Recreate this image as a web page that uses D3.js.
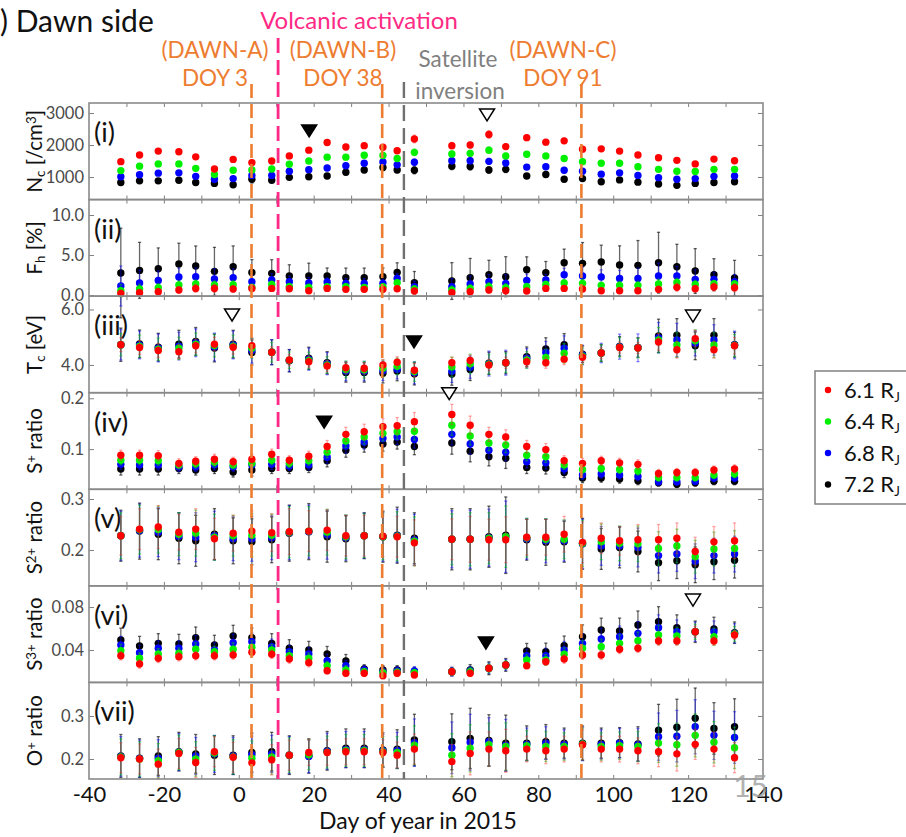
<!DOCTYPE html>
<html>
<head>
<meta charset="utf-8">
<script src="https://cdn.jsdelivr.net/npm/d3@7"></script>
<style>
  html, body { margin: 0; padding: 0; background: #fff; }
  svg { display: block; }
  text { font-family: Lato, "Open Sans", sans-serif; }
</style>
</head>
<body>
<div id="chart"></div>
<script>
// Observation days (day of year 2015)
const days = [-31.5, -26.5, -21.5, -16, -11.5, -6.5, -1.5, 3.5, 8.8, 13.5, 18.7, 23.6, 28.6, 33.5, 38.5, 42.3, 46.9,
  56.9, 61.8, 66.8, 71.3, 76.9, 82, 86.9, 91.8, 96.8, 101.7, 106.6, 112.1, 117, 121.9, 126.9, 132.4];

// Radial distances (legend)
const distances = ["6.1", "6.4", "6.8", "7.2"];

// (i) Core electron density Nc [/cm3]
const nc_61 = [1480,1690,1810,1790,1630,1250,1550,1450,1500,1660,1840,2080,1940,1980,1930,1820,2190, 1980,2000,2330,1950,2230,2090,2130,1870,1880,1810,1690,1600,1520,1410,1560,1510];
const nc_64 = [1200,1340,1410,1410,1270,1080,1210,1220,1250,1400,1500,1620,1620,1680,1670,1580,1770, 1720,1740,1840,1660,1710,1660,1580,1480,1430,1430,1320,1240,1180,1170,1240,1240];
const nc_68 = [1010,1070,1120,1130,1020,930,950,1050,1050,1180,1230,1280,1350,1430,1470,1380,1460, 1510,1510,1490,1440,1310,1320,1210,1180,1090,1130,1050,980,930,950,1020,1030];
const nc_72 = [830,880,880,900,830,800,760,930,900,990,1010,1030,1150,1220,1300,1220,1210, 1340,1330,1220,1240,1030,1080,930,950,850,910,840,780,740,800,830,850];
const nc_err_61 = [60,60,60,60,60,60,60,70,60,70,80,70,80,80,80,70,120, 100,90,120,90,90,80,80,80,70,70,70,60,60,60,60,60];
const nc_err_64 = [60,60,60,60,60,60,60,80,60,60,70,60,70,70,70,70,100, 90,90,100,80,80,70,70,70,60,60,60,60,60,60,60,60];
const nc_err_68 = [60,60,60,60,60,60,60,90,60,60,70,60,70,70,80,70,100, 100,100,90,90,70,70,70,70,60,60,60,60,60,60,60,60];
const nc_err_72 = [60,60,60,60,60,60,70,120,60,60,60,60,80,80,100,80,110, 110,110,100,100,70,70,70,70,60,60,60,60,60,60,60,60];

// (ii) Hot electron fraction Fh [%]
const fh_61 = [0.21,0.29,0.42,0.63,0.83,0.83,0.75,0.83,0.83,0.79,0.54,0.83,0.71,0.71,0.71,0.79,0.5, 0.29,0.42,0.63,0.54,0.5,0.83,0.83,0.75,0.54,0.54,0.54,0.71,0.96,0.79,1.0,0.92];
const fh_64 = [0.54,0.75,0.92,1.25,1.38,1.25,1.29,0.96,1.33,1.04,0.96,1.04,1.04,0.96,1.04,1.54,0.75, 0.63,0.83,1.04,0.92,1.04,1.33,1.5,1.46,1.21,1.21,1.21,1.38,1.58,1.33,1.42,1.38];
const fh_68 = [1.13,1.5,1.83,2.25,2.29,2.0,2.17,1.67,1.88,1.67,1.5,1.63,1.46,1.46,1.46,2.08,1.04, 1.04,1.38,1.67,1.46,1.83,1.88,2.54,2.38,2.25,2.08,2.08,2.38,2.38,1.96,1.96,1.67];
const fh_72 = [2.75,3.08,3.29,3.88,3.63,2.96,3.54,2.83,2.71,2.38,2.38,2.38,2.17,2.17,2.29,2.83,1.54, 1.75,2.17,2.54,2.29,3.17,2.79,4.04,3.96,4.13,3.75,3.71,4.04,3.54,3.0,2.54,2.13];
const fh_err_61 = [0.4,0.4,0.4,0.4,0.5,0.5,0.4,0.4,0.3,0.3,0.3,0.3,0.3,0.3,0.3,0.3,0.3, 0.4,0.4,0.4,0.4,0.3,0.3,0.3,0.3,0.3,0.3,0.3,0.4,0.5,0.4,0.5,0.5];
const fh_err_64 = [0.8,0.6,0.5,0.5,0.5,0.5,0.5,0.4,0.4,0.4,0.4,0.3,0.3,0.3,0.3,0.4,0.4, 0.5,0.5,0.5,0.5,0.4,0.4,0.4,0.5,0.4,0.5,0.5,0.6,0.5,0.5,0.4,0.4];
const fh_err_68 = [2.5,1.6,1.2,1.1,1.1,1.3,1.1,0.8,0.8,0.7,0.7,0.5,0.6,0.6,0.5,0.6,0.7, 1.0,1.0,0.9,1.1,0.8,0.7,0.8,1.1,0.9,1.0,1.3,1.6,1.2,1.2,0.9,0.9];
const fh_err_72 = [5.6,3.5,2.6,2.6,2.5,3.0,2.6,1.6,1.7,1.4,1.6,1.0,1.2,1.2,1.1,1.2,1.4, 2.3,2.4,1.8,2.5,1.6,1.4,1.7,2.6,2.1,2.4,3.1,3.8,2.8,2.8,2.0,2.2];

// (iii) Core electron temperature Tc [eV]
const tc_61 = [4.73,4.63,4.52,4.48,4.69,4.75,4.64,4.69,4.46,4.18,4.12,3.96,3.90,3.88,4.0,4.1,3.81, 4.08,4.16,4.0,4.08,4.12,4.08,4.21,4.28,4.43,4.63,4.61,4.83,4.55,4.95,4.55,4.69];
const tc_64 = [4.73,4.68,4.57,4.60,4.75,4.70,4.68,4.60,4.46,4.17,4.16,4.00,3.84,3.83,3.88,3.95,3.76, 3.93,4.04,4.03,4.08,4.18,4.27,4.42,4.32,4.43,4.64,4.61,4.90,4.72,4.87,4.72,4.70];
const tc_68 = [4.73,4.72,4.61,4.68,4.80,4.65,4.72,4.52,4.46,4.16,4.21,4.05,3.78,3.78,3.79,3.85,3.72, 3.77,3.92,4.05,4.08,4.24,4.45,4.60,4.36,4.43,4.66,4.62,4.98,4.90,4.78,4.90,4.72];
const tc_72 = [4.73,4.76,4.64,4.75,4.85,4.61,4.75,4.45,4.46,4.15,4.24,4.08,3.73,3.73,3.70,3.78,3.68, 3.67,3.84,4.06,4.08,4.30,4.58,4.73,4.39,4.43,4.67,4.63,5.05,5.07,4.69,5.07,4.73];
const tc_err_61 = [0.25,0.25,0.25,0.25,0.25,0.25,0.25,0.25,0.2,0.2,0.2,0.2,0.2,0.2,0.2,0.2,0.25, 0.2,0.2,0.2,0.2,0.2,0.2,0.2,0.2,0.2,0.2,0.2,0.3,0.3,0.3,0.3,0.3];
const tc_err_64 = [0.4,0.4,0.4,0.4,0.4,0.4,0.4,0.35,0.35,0.3,0.3,0.3,0.3,0.3,0.3,0.3,0.35, 0.35,0.35,0.35,0.35,0.3,0.3,0.35,0.3,0.3,0.35,0.35,0.45,0.45,0.4,0.45,0.4];
const tc_err_68 = [0.55,0.5,0.5,0.5,0.5,0.5,0.5,0.45,0.45,0.4,0.4,0.4,0.35,0.35,0.35,0.35,0.4, 0.4,0.4,0.45,0.45,0.35,0.4,0.45,0.35,0.35,0.45,0.5,0.55,0.6,0.45,0.55,0.5];
const tc_err_72 = [0.6,0.5,0.5,0.5,0.5,0.5,0.5,0.45,0.45,0.4,0.4,0.4,0.35,0.35,0.35,0.35,0.4, 0.4,0.4,0.4,0.4,0.35,0.4,0.4,0.3,0.3,0.35,0.35,0.6,0.6,0.5,0.6,0.45];

// (iv) S+ mixing ratio
const s1_61 = [0.088,0.088,0.087,0.072,0.076,0.080,0.075,0.080,0.090,0.078,0.086,0.105,0.129,0.134,0.144,0.146,0.154, 0.168,0.147,0.129,0.124,0.105,0.099,0.077,0.072,0.077,0.073,0.070,0.052,0.054,0.054,0.059,0.061];
const s1_64 = [0.078,0.078,0.077,0.069,0.071,0.074,0.069,0.072,0.078,0.072,0.077,0.094,0.116,0.124,0.131,0.134,0.135, 0.147,0.126,0.112,0.108,0.088,0.085,0.069,0.060,0.062,0.060,0.057,0.044,0.044,0.044,0.049,0.051];
const s1_68 = [0.070,0.069,0.069,0.065,0.065,0.069,0.065,0.069,0.070,0.067,0.069,0.084,0.106,0.114,0.121,0.124,0.119, 0.129,0.110,0.098,0.094,0.075,0.073,0.061,0.049,0.051,0.049,0.046,0.036,0.036,0.037,0.043,0.043];
const s1_72 = [0.061,0.061,0.061,0.062,0.059,0.062,0.055,0.059,0.062,0.062,0.064,0.077,0.098,0.108,0.110,0.114,0.105, 0.112,0.096,0.085,0.082,0.064,0.063,0.054,0.043,0.043,0.041,0.038,0.034,0.031,0.034,0.037,0.037];
const s1_err_61 = [0.01,0.01,0.01,0.009,0.009,0.01,0.009,0.01,0.01,0.009,0.01,0.012,0.014,0.015,0.016,0.016,0.018, 0.02,0.018,0.014,0.014,0.012,0.012,0.01,0.01,0.009,0.009,0.009,0.008,0.008,0.008,0.008,0.008];
const s1_err_64 = [0.009,0.009,0.009,0.008,0.008,0.009,0.008,0.009,0.009,0.008,0.009,0.011,0.013,0.014,0.015,0.015,0.017, 0.02,0.018,0.015,0.015,0.011,0.011,0.009,0.009,0.008,0.008,0.008,0.007,0.007,0.007,0.007,0.007];
const s1_err_68 = [0.01,0.01,0.01,0.009,0.009,0.01,0.009,0.01,0.01,0.009,0.01,0.012,0.014,0.014,0.015,0.015,0.017, 0.021,0.02,0.016,0.017,0.012,0.012,0.01,0.009,0.008,0.008,0.008,0.007,0.007,0.007,0.007,0.007];
const s1_err_72 = [0.012,0.012,0.012,0.01,0.01,0.01,0.01,0.012,0.01,0.01,0.01,0.012,0.014,0.014,0.014,0.014,0.016, 0.022,0.021,0.018,0.02,0.012,0.012,0.01,0.009,0.008,0.008,0.008,0.007,0.007,0.007,0.007,0.007];

// (v) S2+ mixing ratio
const s2_61 = [0.228,0.241,0.245,0.235,0.241,0.222,0.233,0.237,0.234,0.236,0.237,0.239,0.228,0.228,0.227,0.226,0.214, 0.221,0.221,0.220,0.220,0.225,0.225,0.231,0.215,0.223,0.218,0.220,0.220,0.223,0.197,0.216,0.218];
const s2_64 = [0.228,0.240,0.240,0.231,0.233,0.225,0.228,0.229,0.229,0.235,0.237,0.235,0.226,0.228,0.226,0.227,0.217, 0.221,0.221,0.223,0.226,0.224,0.221,0.221,0.213,0.216,0.213,0.212,0.203,0.208,0.187,0.202,0.203];
const s2_68 = [0.228,0.238,0.235,0.227,0.225,0.228,0.222,0.222,0.224,0.234,0.236,0.230,0.224,0.228,0.226,0.228,0.220, 0.221,0.221,0.224,0.226,0.222,0.218,0.218,0.212,0.208,0.208,0.205,0.189,0.192,0.178,0.189,0.192];
const s2_72 = [0.228,0.237,0.231,0.223,0.218,0.231,0.218,0.216,0.220,0.233,0.236,0.226,0.222,0.228,0.226,0.229,0.223, 0.221,0.221,0.226,0.229,0.220,0.215,0.216,0.212,0.202,0.205,0.197,0.175,0.179,0.171,0.177,0.180];
const s2_err_61 = [0.038,0.04,0.042,0.035,0.04,0.04,0.035,0.04,0.037,0.045,0.04,0.04,0.04,0.04,0.04,0.04,0.045, 0.04,0.045,0.04,0.045,0.035,0.035,0.035,0.04,0.03,0.028,0.03,0.03,0.03,0.028,0.03,0.035];
const s2_err_64 = [0.045,0.048,0.046,0.042,0.045,0.045,0.04,0.042,0.041,0.05,0.048,0.045,0.043,0.043,0.045,0.048,0.048, 0.05,0.052,0.05,0.06,0.038,0.04,0.038,0.045,0.035,0.034,0.035,0.033,0.033,0.032,0.033,0.035];
const s2_err_68 = [0.048,0.052,0.048,0.046,0.048,0.048,0.043,0.044,0.043,0.053,0.052,0.048,0.044,0.044,0.048,0.052,0.05, 0.056,0.057,0.056,0.07,0.04,0.043,0.04,0.048,0.038,0.038,0.038,0.034,0.034,0.034,0.034,0.035];
const s2_err_72 = [0.05,0.055,0.05,0.05,0.05,0.05,0.045,0.045,0.045,0.055,0.055,0.05,0.045,0.045,0.05,0.055,0.05, 0.06,0.06,0.06,0.075,0.04,0.045,0.04,0.05,0.04,0.04,0.04,0.035,0.035,0.035,0.035,0.035];

// (vi) S3+ mixing ratio
const s3_61 = [0.0347,0.0270,0.0323,0.0338,0.0347,0.0347,0.0353,0.0379,0.0360,0.0316,0.0282,0.0207,0.0183,0.0183,0.0161,0.0183,0.0168, 0.0198,0.0183,0.0230,0.0261,0.0254,0.0291,0.0316,0.0353,0.0353,0.0407,0.0416,0.0484,0.0484,0.0570,0.0484,0.0540];
const s3_64 = [0.0394,0.0323,0.0363,0.0369,0.0407,0.0384,0.0407,0.0425,0.0400,0.0347,0.0323,0.0254,0.0214,0.0198,0.0189,0.0193,0.0189, 0.0198,0.0198,0.0230,0.0261,0.0307,0.0307,0.0360,0.0416,0.0431,0.0462,0.0487,0.0540,0.0530,0.0570,0.0524,0.0549];
const s3_68 = [0.0447,0.0375,0.0416,0.0416,0.0456,0.0400,0.0468,0.0477,0.0431,0.0384,0.0363,0.0300,0.0254,0.0214,0.0198,0.0205,0.0205, 0.0198,0.0207,0.0230,0.0261,0.0347,0.0347,0.0400,0.0462,0.0502,0.0524,0.0555,0.0607,0.0570,0.0570,0.0570,0.0555];
const s3_72 = [0.0493,0.0437,0.0462,0.0456,0.0514,0.0447,0.0530,0.0514,0.0462,0.0416,0.0400,0.0363,0.0298,0.0223,0.0214,0.0214,0.0198, 0.0198,0.0214,0.0230,0.0261,0.0391,0.0384,0.0440,0.0524,0.0586,0.0577,0.0633,0.0663,0.0607,0.0570,0.0595,0.0561];
const s3_err_61 = [0.004,0.004,0.004,0.004,0.004,0.004,0.004,0.004,0.004,0.004,0.004,0.003,0.003,0.003,0.003,0.003,0.003, 0.003,0.003,0.003,0.003,0.003,0.003,0.004,0.004,0.004,0.004,0.004,0.004,0.004,0.005,0.004,0.004];
const s3_err_64 = [0.006,0.005,0.005,0.005,0.006,0.005,0.006,0.006,0.005,0.005,0.005,0.004,0.004,0.003,0.003,0.003,0.003, 0.003,0.004,0.004,0.004,0.005,0.005,0.006,0.007,0.007,0.008,0.008,0.009,0.008,0.007,0.008,0.007];
const s3_err_68 = [0.008,0.007,0.007,0.007,0.008,0.007,0.008,0.008,0.007,0.006,0.006,0.006,0.005,0.004,0.004,0.004,0.004, 0.004,0.004,0.005,0.005,0.006,0.007,0.008,0.009,0.01,0.01,0.011,0.012,0.011,0.009,0.01,0.009];
const s3_err_72 = [0.011,0.009,0.009,0.009,0.01,0.009,0.01,0.009,0.009,0.008,0.008,0.007,0.006,0.004,0.004,0.004,0.004, 0.004,0.005,0.006,0.006,0.007,0.008,0.009,0.011,0.011,0.012,0.013,0.014,0.012,0.01,0.011,0.01];

// (vii) O+ mixing ratio
const o1_61 = [0.203,0.200,0.188,0.213,0.192,0.217,0.204,0.191,0.198,0.209,0.215,0.215,0.217,0.217,0.215,0.209,0.223, 0.194,0.213,0.223,0.219,0.223,0.219,0.223,0.233,0.223,0.223,0.219,0.217,0.212,0.234,0.223,0.203];
const o1_64 = [0.205,0.200,0.196,0.215,0.200,0.214,0.205,0.202,0.205,0.209,0.210,0.216,0.220,0.220,0.217,0.215,0.232, 0.209,0.225,0.233,0.229,0.231,0.229,0.229,0.235,0.229,0.231,0.229,0.237,0.233,0.255,0.239,0.226];
const o1_68 = [0.206,0.201,0.202,0.216,0.207,0.212,0.207,0.210,0.212,0.209,0.206,0.218,0.222,0.222,0.219,0.220,0.238, 0.226,0.239,0.240,0.232,0.234,0.237,0.234,0.235,0.234,0.237,0.233,0.252,0.253,0.275,0.255,0.250];
const o1_72 = [0.207,0.202,0.207,0.217,0.212,0.209,0.209,0.215,0.217,0.209,0.207,0.219,0.225,0.225,0.221,0.223,0.244, 0.240,0.248,0.243,0.237,0.237,0.240,0.237,0.237,0.237,0.238,0.235,0.267,0.274,0.295,0.271,0.275];
const o1_err_61 = [0.035,0.035,0.035,0.035,0.035,0.035,0.035,0.035,0.035,0.035,0.03,0.03,0.03,0.03,0.03,0.03,0.035, 0.04,0.05,0.04,0.05,0.03,0.03,0.03,0.035,0.03,0.03,0.03,0.035,0.04,0.035,0.04,0.035];
const o1_err_64 = [0.042,0.04,0.04,0.04,0.04,0.04,0.04,0.04,0.04,0.04,0.035,0.037,0.037,0.037,0.035,0.037,0.045, 0.05,0.055,0.05,0.055,0.035,0.035,0.032,0.037,0.032,0.032,0.035,0.045,0.05,0.05,0.048,0.048];
const o1_err_68 = [0.046,0.043,0.043,0.043,0.043,0.043,0.043,0.043,0.043,0.043,0.038,0.042,0.042,0.042,0.038,0.042,0.055, 0.06,0.065,0.056,0.06,0.038,0.038,0.034,0.039,0.034,0.034,0.038,0.055,0.06,0.063,0.056,0.06];
const o1_err_72 = [0.05,0.045,0.045,0.045,0.045,0.045,0.045,0.045,0.045,0.045,0.04,0.045,0.045,0.045,0.04,0.045,0.06, 0.065,0.07,0.06,0.065,0.04,0.04,0.035,0.04,0.035,0.035,0.04,0.06,0.065,0.07,0.06,0.065];

// Event markers (panel index, day, value, filled)
const markerPanel = [0, 0, 2, 2, 2, 3, 3, 5, 5];
const markerDay   = [18.8, 66.3, -1.8, 46.8, 121.3, 22.8, 56.2, 66.0, 121.3];
const markerValue = [2440, 2940, 5.80, 4.83, 5.76, 0.153, 0.209, 0.0465, 0.0865];
const markerFilled = [true, false, false, true, false, true, false, true, false];

// Event lines
const orangeDays = [3.4, 38.3, 91.5];
const volcanicDay = 10.5;
const inversionDay = 44.1;

// X ticks
const xTickLabels = [-40, -20, 0, 20, 40, 60, 80, 100, 120, 140];

// ---- layout ----
const W = 906, H = 837;
const left = 89, right = 763, plotTop = 103, plotBottom = 779;
const nPanels = 7;
const ph = (plotBottom - plotTop) / nPanels;
const colors = { "6.1": "#ff0000", "6.4": "#00f000", "6.8": "#0000ff", "7.2": "#000000" };
const barColors = { "6.1": "rgba(255,40,40,0.38)", "6.4": "rgba(0,200,0,0.45)", "6.8": "rgba(0,0,255,0.45)", "7.2": "rgba(0,0,0,0.6)" };
const ORANGE = "#ed7d31", PINK = "#ff2a85", GRAY = "#808080";

const panels = [
  { tag: "(i)", domain: [295, 3313], ticks: [1000, 2000, 3000], fmt: d3.format("d"),
    label: [["N", ""], ["c", "sub"], [" [/cm", ""], ["3", "sup"], ["]", ""]],
    vals: { "6.1": nc_61, "6.4": nc_64, "6.8": nc_68, "7.2": nc_72 },
    errs: { "6.1": nc_err_61, "6.4": nc_err_64, "6.8": nc_err_68, "7.2": nc_err_72 } },
  { tag: "(ii)", domain: [-0.14, 11.93], ticks: [0, 5, 10], fmt: d3.format(".1f"),
    label: [["F", ""], ["h", "sub"], [" [%]", ""]],
    vals: { "6.1": fh_61, "6.4": fh_64, "6.8": fh_68, "7.2": fh_72 },
    errs: { "6.1": fh_err_61, "6.4": fh_err_64, "6.8": fh_err_68, "7.2": fh_err_72 } },
  { tag: "(iii)", domain: [3.0, 6.48], ticks: [4, 6], fmt: d3.format(".1f"),
    label: [["T", ""], ["c", "sub"], [" [eV]", ""]],
    vals: { "6.1": tc_61, "6.4": tc_64, "6.8": tc_68, "7.2": tc_72 },
    errs: { "6.1": tc_err_61, "6.4": tc_err_64, "6.8": tc_err_68, "7.2": tc_err_72 } },
  { tag: "(iv)", domain: [0.021, 0.2109], ticks: [0.1, 0.2], fmt: d3.format(".1f"),
    label: [["S", ""], ["+", "sup"], [" ratio", ""]],
    vals: { "6.1": s1_61, "6.4": s1_64, "6.8": s1_68, "7.2": s1_72 },
    errs: { "6.1": s1_err_61, "6.4": s1_err_64, "6.8": s1_err_68, "7.2": s1_err_72 } },
  { tag: "(v)", domain: [0.1297, 0.319], ticks: [0.2, 0.3], fmt: d3.format(".1f"),
    label: [["S", ""], ["2+", "sup"], [" ratio", ""]],
    vals: { "6.1": s2_61, "6.4": s2_64, "6.8": s2_68, "7.2": s2_72 },
    errs: { "6.1": s2_err_61, "6.4": s2_err_64, "6.8": s2_err_68, "7.2": s2_err_72 } },
  { tag: "(vi)", domain: [0.0098, 0.0997], ticks: [0.04, 0.08], fmt: d3.format(".2f"),
    label: [["S", ""], ["3+", "sup"], [" ratio", ""]],
    vals: { "6.1": s3_61, "6.4": s3_64, "6.8": s3_68, "7.2": s3_72 },
    errs: { "6.1": s3_err_61, "6.4": s3_err_64, "6.8": s3_err_68, "7.2": s3_err_72 } },
  { tag: "(vii)", domain: [0.1535, 0.378], ticks: [0.2, 0.3], fmt: d3.format(".1f"),
    label: [["O", ""], ["+", "sup"], [" ratio", ""]],
    vals: { "6.1": o1_61, "6.4": o1_64, "6.8": o1_68, "7.2": o1_72 },
    errs: { "6.1": o1_err_61, "6.4": o1_err_64, "6.8": o1_err_68, "7.2": o1_err_72 } }
];

const svg = d3.select("#chart").append("svg").attr("width", W).attr("height", H);
svg.append("rect").attr("width", W).attr("height", H).attr("fill", "#fff");

const x = d3.scaleLinear().domain([-40, 140]).range([left, right]);
const drawOrder = ["7.2", "6.8", "6.4", "6.1"];

function addRich(sel, parts, size) {
  parts.forEach(([t, kind]) => {
    const ts = sel.append("tspan").text(t);
    if (kind === "sub") ts.attr("font-size", size * 0.65).attr("baseline-shift", "-22%");
    else if (kind === "sup") ts.attr("font-size", size * 0.65).attr("baseline-shift", "45%");
  });
}

const yScales = [];
panels.forEach((p, i) => {
  const top = plotTop + i * ph;
  const y = d3.scaleLinear().domain(p.domain).range([top + ph, top]);
  yScales.push(y);
  const g = svg.append("g");

  g.append("rect").attr("x", left).attr("y", top).attr("width", right - left).attr("height", ph)
    .attr("fill", "#fff").attr("stroke", "none");

  // left axis with labels
  const ax = g.append("g").attr("transform", `translate(${left},0)`)
    .call(d3.axisLeft(y).tickValues(p.ticks).tickFormat(p.fmt).tickSize(-5).tickPadding(5));
  ax.select(".domain").remove();
  ax.selectAll("line").attr("stroke", GRAY).attr("stroke-width", 1);
  ax.selectAll("text").attr("font-size", 16.5).attr("fill", "#4a4a4a").attr("font-family", "Lato, sans-serif");

  // right ticks
  const axr = g.append("g").attr("transform", `translate(${right},0)`)
    .call(d3.axisRight(y).tickValues(p.ticks).tickFormat("").tickSize(-5));
  axr.select(".domain").remove();
  axr.selectAll("line").attr("stroke", GRAY);

  // top/bottom minor ticks every 10 days
  const axt = g.append("g").attr("transform", `translate(0,${top})`)
    .call(d3.axisTop(x).tickValues(d3.range(-30, 140, 10)).tickFormat("").tickSize(-4));
  axt.select(".domain").remove();
  axt.selectAll("line").attr("stroke", GRAY);
  const axb = g.append("g").attr("transform", `translate(0,${top + ph})`)
    .call(d3.axisBottom(x).tickValues(d3.range(-30, 140, 10)).tickFormat("").tickSize(-4));
  axb.select(".domain").remove();
  axb.selectAll("line").attr("stroke", GRAY);

  // y label
  const cy = top + ph / 2;
  const lab = g.append("text").attr("transform", `translate(42,${cy}) rotate(-90)`)
    .attr("text-anchor", "middle").attr("font-size", 20.5).attr("fill", "#111");
  addRich(lab, p.label, 20.5);

  // panel tag
  g.append("text").attr("x", 94).attr("y", top + 39).attr("font-size", 27).attr("fill", "#111").text(p.tag);
});

// data: error bars and points
panels.forEach((p, i) => {
  const y = yScales[i];
  const g = svg.append("g");
  drawOrder.forEach(k => {
    const vals = p.vals[k], errs = p.errs[k];
    const pts = days.map((d, j) => ({ d, v: vals[j], e: errs[j] }));
    const sg = g.append("g");
    sg.selectAll("line.bar").data(pts).join("line")
      .attr("x1", o => x(o.d)).attr("x2", o => x(o.d))
      .attr("y1", o => y(o.v - o.e)).attr("y2", o => y(o.v + o.e))
      .attr("stroke", barColors[k]).attr("stroke-width", 1.3);
    [-1, 1].forEach(s => {
      sg.selectAll(null).data(pts).join("line")
        .attr("x1", o => x(o.d) - 1.6).attr("x2", o => x(o.d) + 1.6)
        .attr("y1", o => y(o.v + s * o.e)).attr("y2", o => y(o.v + s * o.e))
        .attr("stroke", barColors[k]).attr("stroke-width", 1.3);
    });
    sg.selectAll("circle").data(pts).join("circle")
      .attr("cx", o => x(o.d)).attr("cy", o => y(o.v)).attr("r", 3.7)
      .attr("fill", colors[k]);
  });
});

// frames
panels.forEach((p, i) => {
  svg.append("rect").attr("x", left).attr("y", plotTop + i * ph).attr("width", right - left).attr("height", ph)
    .attr("fill", "none").attr("stroke", "#8a8a8a").attr("stroke-width", 1.6);
});

// event lines
orangeDays.forEach(d => {
  svg.append("line").attr("x1", x(d)).attr("x2", x(d)).attr("y1", 84).attr("y2", plotBottom)
    .attr("stroke", ORANGE).attr("stroke-width", 2.6).attr("stroke-dasharray", "14,6");
});
svg.append("line").attr("x1", x(volcanicDay)).attr("x2", x(volcanicDay)).attr("y1", 38).attr("y2", plotBottom)
  .attr("stroke", PINK).attr("stroke-width", 2.8).attr("stroke-dasharray", "15,7");
svg.append("line").attr("x1", x(inversionDay)).attr("x2", x(inversionDay)).attr("y1", 82).attr("y2", plotBottom)
  .attr("stroke", "#707070").attr("stroke-width", 2.4).attr("stroke-dasharray", "16,7");

// markers
const tri = "M-7.5,-6L7.5,-6L0,6Z";
markerDay.forEach((d, j) => {
  const y = yScales[markerPanel[j]];
  svg.append("path").attr("d", tri)
    .attr("transform", `translate(${x(d)},${y(markerValue[j])})`)
    .attr("fill", markerFilled[j] ? "#000" : "#fff")
    .attr("stroke", "#000").attr("stroke-width", 1.5);
});

// x axis labels
const xa = svg.append("g").attr("transform", `translate(0,${plotBottom})`)
  .call(d3.axisBottom(x).tickValues(xTickLabels).tickFormat(d3.format("d")).tickSize(0).tickPadding(7));
xa.select(".domain").remove();
xa.selectAll("text").attr("font-size", 22).attr("fill", "#111").attr("font-family", "Lato, sans-serif")
  .text(d => d < 0 ? "-" + Math.abs(d) : d);

// page number
svg.append("text").attr("x", 768).attr("y", 797).attr("text-anchor", "end")
  .attr("font-size", 30).attr("fill", "#a0a0a0").attr("opacity", 0.8).text("15");

svg.append("text").attr("x", 418).attr("y", 829).attr("text-anchor", "middle")
  .attr("font-size", 23).attr("fill", "#111").text("Day of year in 2015");

// header annotations
svg.append("text").attr("x", 0).attr("y", 32).attr("font-size", 30).attr("fill", "#111").text(") Dawn side");
svg.append("text").attr("x", 359).attr("y", 29).attr("text-anchor", "middle").attr("font-size", 24)
  .attr("fill", PINK).text("Volcanic activation");
const hdr = [["(DAWN-A)", 215, 58], ["DOY 3", 215, 86], ["(DAWN-B)", 343, 58], ["DOY 38", 343, 86],
             ["(DAWN-C)", 563, 58], ["DOY 91", 563, 86]];
hdr.forEach(([t, hx, hy]) => svg.append("text").attr("x", hx).attr("y", hy).attr("text-anchor", "middle")
  .attr("font-size", 22.5).attr("fill", ORANGE).text(t));
svg.append("text").attr("x", 458).attr("y", 67).attr("text-anchor", "middle").attr("font-size", 22.5)
  .attr("fill", GRAY).text("Satellite");
svg.append("text").attr("x", 460).attr("y", 99).attr("text-anchor", "middle").attr("font-size", 22.5)
  .attr("fill", GRAY).text("inversion");

// legend
const lg = svg.append("g");
lg.append("rect").attr("x", 815).attr("y", 371).attr("width", 120).attr("height", 133)
  .attr("fill", "#fff").attr("stroke", GRAY).attr("stroke-width", 1.5);
distances.forEach((r, j) => {
  const ly = 390 + j * 31.5;
  lg.append("circle").attr("cx", 828).attr("cy", ly).attr("r", 3.2).attr("fill", colors[r]);
  const t = lg.append("text").attr("x", 844).attr("y", ly + 7.5).attr("font-size", 22).attr("fill", "#111");
  t.append("tspan").text(r + " R");
  t.append("tspan").text("J").attr("font-size", 13.5).attr("baseline-shift", "-25%");
});
</script>
</body>
</html>
